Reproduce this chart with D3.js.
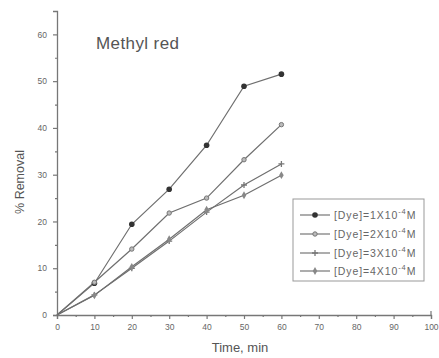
<!DOCTYPE html>
<html>
<head>
<meta charset="utf-8">
<script src="https://cdn.jsdelivr.net/npm/d3@7"></script>
<style>
  html, body { margin: 0; padding: 0; background: #fff; }
  svg { display: block; font-family: Arial, "Liberation Sans", sans-serif; }
</style>
</head>
<body>
<svg id="chart" width="439" height="358"></svg>
<script>
// Contact time (min) and % removal of methyl red at four dye concentrations
const times = [0, 10, 20, 30, 40, 50, 60];
const dye1 = [0, 6.8, 19.4, 26.9, 36.3, 48.9, 51.5];
const dye2 = [0, 7.0, 14.1, 21.8, 25.0, 33.2, 40.7];
const dye3 = [0, 4.3, 10.0, 15.8, 22.0, 27.8, 32.3];
const dye4 = [0, 4.2, 10.3, 16.2, 22.5, 25.6, 29.9];
const seriesNames = ["1", "2", "3", "4"];
const xTicks = [0, 10, 20, 30, 40, 50, 60, 70, 80, 90, 100];
const yTicks = [0, 10, 20, 30, 40, 50, 60];

const series = [
  { n: seriesNames[0], v: dye1, sym: "circleFill" },
  { n: seriesNames[1], v: dye2, sym: "circleOpen" },
  { n: seriesNames[2], v: dye3, sym: "cross" },
  { n: seriesNames[3], v: dye4, sym: "diamond" }
];

const svg = d3.select("#chart");
const x = d3.scaleLinear().domain([0, 100]).range([57, 431]);
const y = d3.scaleLinear().domain([0, 65]).range([315, 11]);

const axisColor = "#777";
const textColor = "#666";

// Y axis with minor ticks every 5
svg.append("g").attr("transform", `translate(${x(0)},0)`)
  .call(d3.axisLeft(y).tickValues(yTicks).tickSize(4).tickPadding(6).tickFormat(d3.format("d")));
svg.append("g").attr("transform", `translate(${x(0)},0)`)
  .call(d3.axisLeft(y).tickValues(d3.range(5, 65, 10)).tickSize(2).tickFormat(""))
  .select(".domain").remove();

// X axis with minor ticks every 5
svg.append("g").attr("transform", `translate(0,${y(0)})`)
  .call(d3.axisBottom(x).tickValues(xTicks).tickSize(4).tickPadding(5).tickFormat(d3.format("d")));
svg.append("g").attr("transform", `translate(0,${y(0)})`)
  .call(d3.axisBottom(x).tickValues(d3.range(5, 100, 10)).tickSize(2).tickFormat(""))
  .select(".domain").remove();

svg.selectAll(".domain").attr("stroke", axisColor).attr("stroke-width", 1.3);
svg.selectAll(".tick line").attr("stroke", axisColor).attr("stroke-width", 1.2);
svg.selectAll(".tick text").attr("fill", textColor).attr("font-size", 8.5);

// small closing tick at the end of the x axis
svg.append("line")
  .attr("x1", x(100)).attr("x2", x(100))
  .attr("y1", y(0)).attr("y2", y(0) - 4)
  .attr("stroke", axisColor).attr("stroke-width", 1.2);

// Axis titles
svg.append("text")
  .attr("x", 240).attr("y", 352)
  .attr("text-anchor", "middle").attr("font-size", 13).attr("fill", "#555")
  .text("Time, min");
svg.append("text")
  .attr("transform", `translate(24,${182}) rotate(-90)`)
  .attr("text-anchor", "middle").attr("font-size", 12.5).attr("fill", "#555")
  .text("% Removal");

// Chart title
svg.append("text")
  .attr("x", 96).attr("y", 49)
  .attr("font-size", 17).attr("letter-spacing", 0.4).attr("fill", "#555")
  .text("Methyl red");

// Marker drawing
function marker(g, sym, cx, cy) {
  if (sym === "circleFill") {
    g.append("circle").attr("cx", cx).attr("cy", cy).attr("r", 2.8).attr("fill", "#333");
  } else if (sym === "circleOpen") {
    g.append("circle").attr("cx", cx).attr("cy", cy).attr("r", 2.2)
      .attr("fill", "#bbb").attr("stroke", "#777").attr("stroke-width", 1);
  } else if (sym === "cross") {
    g.append("path").attr("d", `M${cx - 3},${cy}H${cx + 3}M${cx},${cy - 3}V${cy + 3}`)
      .attr("stroke", "#777").attr("stroke-width", 1.3);
  } else {
    g.append("path").attr("d", d3.symbol(d3.symbolDiamond, 18)())
      .attr("transform", `translate(${cx},${cy})`).attr("fill", "#888");
  }
}

const line = d3.line().x((d, i) => x(times[i])).y(d => y(d));
const plot = svg.append("g");
series.forEach(s => {
  plot.append("path").datum(s.v).attr("d", line)
    .attr("fill", "none").attr("stroke", "#6f6f6f").attr("stroke-width", 1.2);
});
series.forEach(s => {
  s.v.forEach((v, i) => { if (i > 0) marker(plot, s.sym, x(times[i]), y(v)); });
});

// Legend
const legend = svg.append("g");
legend.append("rect").attr("x", 293).attr("y", 199).attr("width", 131).attr("height", 82)
  .attr("fill", "#fff").attr("stroke", "#999").attr("stroke-width", 1);
const rowY = [215, 234, 253, 271];
series.forEach((s, i) => {
  const ly = rowY[i];
  legend.append("line").attr("x1", 300).attr("x2", 330).attr("y1", ly).attr("y2", ly)
    .attr("stroke", "#777").attr("stroke-width", 1.2);
  marker(legend, s.sym, 315, ly);
  const t = legend.append("text").attr("x", 334).attr("y", ly + 3.5)
    .attr("font-size", 10.5).attr("letter-spacing", 0.9).attr("fill", textColor);
  t.append("tspan").text(`[Dye]=${s.n}X10`);
  t.append("tspan").attr("dy", -4.5).attr("font-size", 7.5).text("-4");
  t.append("tspan").attr("dy", 4.5).text("M");
});
</script>
</body>
</html>
